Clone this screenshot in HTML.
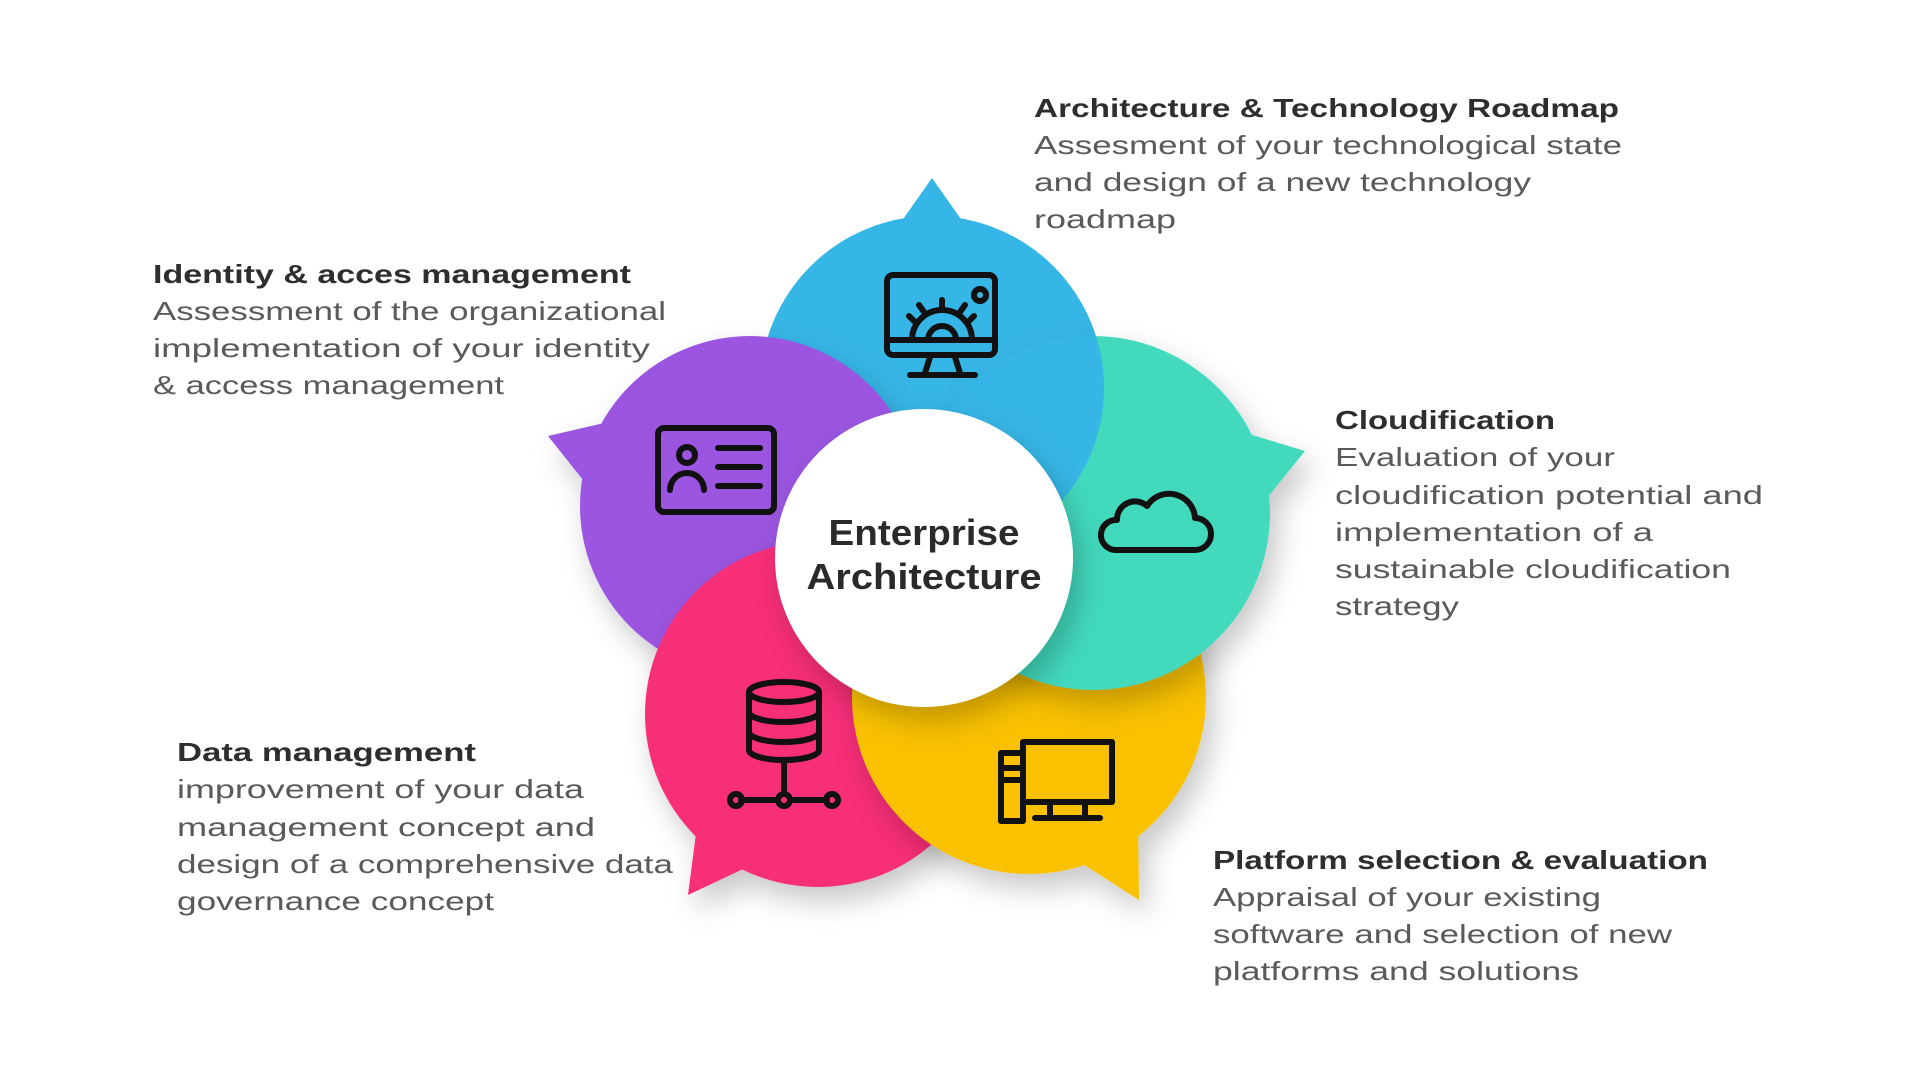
<!DOCTYPE html>
<html><head><meta charset="utf-8"><style>
html,body{margin:0;padding:0;background:#fff;}
svg{display:block;}
.h{font-family:"Liberation Sans",sans-serif;font-weight:bold;font-size:26px;fill:#2e2e2e;}
.b{font-family:"Liberation Sans",sans-serif;font-size:26px;fill:#5a5a5a;}
.c{font-family:"Liberation Sans",sans-serif;font-weight:bold;font-size:36px;fill:#2a2a2a;}
.i{fill:none;stroke:#111;stroke-width:6;stroke-linecap:round;stroke-linejoin:round;}
</style></head><body>
<svg width="1920" height="1080" viewBox="0 0 1920 1080" xmlns="http://www.w3.org/2000/svg">
<defs>
<filter id="sh" x="-30%" y="-30%" width="160%" height="160%"><feDropShadow dx="8" dy="14" stdDeviation="14" flood-color="#000" flood-opacity="0.22"/></filter>
<clipPath id="tealc"><circle cx="1093" cy="513" r="177"/></clipPath>
</defs>
<g id="blue" fill="#36b6e6"><circle cx="932" cy="388" r="172"/><polygon points="932,178 970,232 894,232"/></g>
<g fill="#9b55e0" filter="url(#sh)"><circle cx="750" cy="506" r="170"/><polygon points="548,436 617,420 591,490"/></g>
<g fill="#f72d78" filter="url(#sh)"><circle cx="818" cy="714" r="173"/><polygon points="688,895 758,862 698,818"/></g>
<g fill="#f9c102" filter="url(#sh)"><circle cx="1029" cy="697" r="177"/><polygon points="1139,900 1072,857 1138,819"/></g>
<g fill="#43d9bd" filter="url(#sh)"><circle cx="1093" cy="513" r="177"/><polygon points="1305,451 1263,503 1239,431"/></g>
<g clip-path="url(#tealc)"><circle cx="932" cy="388" r="172" fill="#36b6e6"/></g>
<circle cx="924" cy="558" r="149" fill="#fff" filter="url(#sh)"/>
<text class="c" x="924" y="545" text-anchor="middle" textLength="191" lengthAdjust="spacingAndGlyphs">Enterprise</text>
<text class="c" x="924" y="589" text-anchor="middle" textLength="235" lengthAdjust="spacingAndGlyphs">Architecture</text>
<g class="i">
<rect x="887" y="275" width="108" height="80" rx="6"/><line x1="890" y1="340" x2="992" y2="340"/>
<path d="M930 357 L925 373 M955 357 L960 373 M910 375 L975 375"/>
<path d="M912 340 a30 30 0 0 1 60 0"/><path d="M928 340 a14 14 0 0 1 28 0"/>
<path d="M915 322 l-6 -6 M942 308 v-8 M968 322 l6 -6 M924 312 l-5 -7 M960 312 l5 -7"/>
<circle cx="980" cy="295" r="6"/>
<rect x="658" y="428" width="116" height="84" rx="6"/>
<circle cx="687" cy="455" r="8"/><path d="M670 490 a17 17 0 0 1 34 0"/>
<path d="M718 448 h42 M718 467 h42 M718 486 h42"/>
<path d="M1115 550 h80 a16 16 0 0 0 0 -32 a26 26 0 0 0 -48 -12 a18 18 0 0 0 -30 14 a15 15 0 0 0 -2 30 z"/>
<ellipse cx="784" cy="692" rx="35" ry="10"/>
<path d="M749 692 v58 a35 10 0 0 0 70 0 v-58 M749 712 a35 10 0 0 0 70 0 M749 732 a35 10 0 0 0 70 0"/>
<path d="M784 760 v30 M741 800 h37 M790 800 h37"/>
<circle cx="736" cy="800" r="6"/><circle cx="784" cy="800" r="6"/><circle cx="832" cy="800" r="6"/>
<rect x="1001" y="753" width="22" height="68"/><path d="M1004 768 h16 M1004 780 h16"/>
<rect x="1023" y="742" width="89" height="60"/><path d="M1050 802 v14 M1085 802 v14 M1035 818 h65"/>
</g>
<text class="h" x="1034" y="117" textLength="585" lengthAdjust="spacingAndGlyphs">Architecture &amp; Technology Roadmap</text>
<text class="b" x="1034" y="154" textLength="588" lengthAdjust="spacingAndGlyphs">Assesment of your technological state</text>
<text class="b" x="1034" y="191" textLength="497" lengthAdjust="spacingAndGlyphs">and design of a new technology</text>
<text class="b" x="1034" y="228" textLength="142" lengthAdjust="spacingAndGlyphs">roadmap</text>

<text class="h" x="153" y="283" textLength="478" lengthAdjust="spacingAndGlyphs">Identity &amp; acces management</text>
<text class="b" x="153" y="320" textLength="513" lengthAdjust="spacingAndGlyphs">Assessment of the organizational</text>
<text class="b" x="153" y="357" textLength="497" lengthAdjust="spacingAndGlyphs">implementation of your identity</text>
<text class="b" x="153" y="394" textLength="351" lengthAdjust="spacingAndGlyphs">&amp; access management</text>

<text class="h" x="1335" y="429" textLength="220" lengthAdjust="spacingAndGlyphs">Cloudification</text>
<text class="b" x="1335" y="466" textLength="280" lengthAdjust="spacingAndGlyphs">Evaluation of your</text>
<text class="b" x="1335" y="504" textLength="428" lengthAdjust="spacingAndGlyphs">cloudification potential and</text>
<text class="b" x="1335" y="541" textLength="318" lengthAdjust="spacingAndGlyphs">implementation of a</text>
<text class="b" x="1335" y="578" textLength="396" lengthAdjust="spacingAndGlyphs">sustainable cloudification</text>
<text class="b" x="1335" y="615" textLength="124" lengthAdjust="spacingAndGlyphs">strategy</text>

<text class="h" x="177" y="761" textLength="299" lengthAdjust="spacingAndGlyphs">Data management</text>
<text class="b" x="177" y="798" textLength="407" lengthAdjust="spacingAndGlyphs">improvement of your data</text>
<text class="b" x="177" y="836" textLength="418" lengthAdjust="spacingAndGlyphs">management concept and</text>
<text class="b" x="177" y="873" textLength="496" lengthAdjust="spacingAndGlyphs">design of a comprehensive data</text>
<text class="b" x="177" y="910" textLength="317" lengthAdjust="spacingAndGlyphs">governance concept</text>

<text class="h" x="1213" y="869" textLength="495" lengthAdjust="spacingAndGlyphs">Platform selection &amp; evaluation</text>
<text class="b" x="1213" y="906" textLength="388" lengthAdjust="spacingAndGlyphs">Appraisal of your existing</text>
<text class="b" x="1213" y="943" textLength="459" lengthAdjust="spacingAndGlyphs">software and selection of new</text>
<text class="b" x="1213" y="980" textLength="366" lengthAdjust="spacingAndGlyphs">platforms and solutions</text>
</svg>
</body></html>
